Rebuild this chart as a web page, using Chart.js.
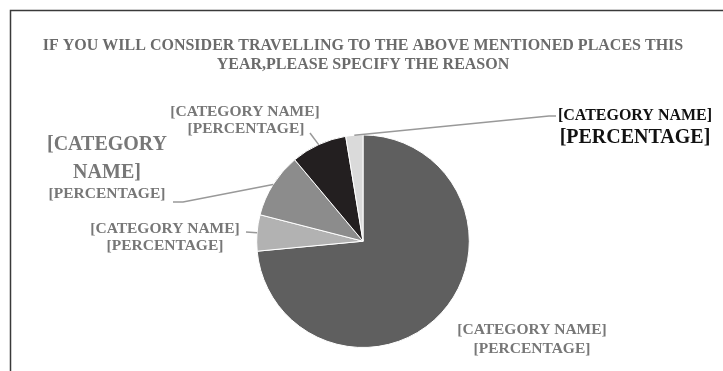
<!DOCTYPE html>
<html>
<head>
<meta charset="utf-8">
<script src="https://cdn.jsdelivr.net/npm/chart.js@4.4.1/dist/chart.umd.min.js"></script>
<style>
  html, body { margin: 0; padding: 0; background: #fff; }
  #wrap { position: relative; width: 723px; height: 371px; }
</style>
</head>
<body>
<div id="wrap"><canvas id="chart"></canvas></div>
<script>
const titleLines = [
    'IF YOU WILL CONSIDER TRAVELLING TO THE ABOVE MENTIONED PLACES THIS',
    'YEAR,PLEASE SPECIFY THE REASON'
];
const categories = ['[CATEGORY NAME]', '[CATEGORY NAME]', '[CATEGORY NAME]', '[CATEGORY NAME]', '[CATEGORY NAME]'];
const percentLabels = ['[PERCENTAGE]', '[PERCENTAGE]', '[PERCENTAGE]', '[PERCENTAGE]', '[PERCENTAGE]'];
const shares = [73.5, 5.5, 9.9, 8.5, 2.6];
const sliceColors = ['#5f5f5f', '#b2b2b2', '#8c8c8c', '#231f20', '#dadada'];

const serif = "'Liberation Serif', 'DejaVu Serif', serif";

// where each callout sits (label lines + leader path ending at the slice edge)
const labelLayout = [
    { color: '#777', lines: [[532, 334, 15.5, 'name'], [532, 353, 15.5, 'pct']] },
    { color: '#777', lines: [[165, 233, 15.5, 'name'], [165, 250, 15.5, 'pct']], leader: [[246, 232]] },
    { color: '#777', lines: [[107, 150, 20, 'name0'], [107, 178, 20, 'name1'], [107, 198, 15.5, 'pct']], leader: [[173, 202], [183, 202]] },
    { color: '#777', lines: [[245, 116, 15.5, 'name'], [246, 133, 15.5, 'pct']], leader: [[310, 133]] },
    { color: '#111', lines: [[635, 120, 16, 'name'], [635, 143, 20, 'pct']], leader: [[556, 116], [549, 116]] }
];

const calloutLabels = {
    id: 'calloutLabels',
    afterDatasetsDraw(chart) {
        const ctx = chart.ctx;
        const arcs = chart.getDatasetMeta(0).data;
        ctx.save();
        labelLayout.forEach((lay, i) => {
            const arc = arcs[i];
            const mid = (arc.startAngle + arc.endAngle) / 2;
            const ax = arc.x + Math.cos(mid) * arc.outerRadius;
            const ay = arc.y + Math.sin(mid) * arc.outerRadius;
            if (lay.leader) {
                ctx.beginPath();
                ctx.moveTo(lay.leader[0][0], lay.leader[0][1]);
                lay.leader.slice(1).forEach(p => ctx.lineTo(p[0], p[1]));
                ctx.lineTo(ax, ay);
                ctx.strokeStyle = '#999';
                ctx.lineWidth = 1.5;
                ctx.stroke();
            }
            const nameParts = categories[i].split(' ');
            ctx.fillStyle = lay.color;
            ctx.textAlign = 'center';
            ctx.textBaseline = 'alphabetic';
            lay.lines.forEach(([x, y, size, kind]) => {
                let txt = percentLabels[i];
                if (kind === 'name') txt = categories[i];
                if (kind === 'name0') txt = nameParts[0];
                if (kind === 'name1') txt = nameParts.slice(1).join(' ');
                ctx.font = 'bold ' + size + 'px ' + serif;
                ctx.fillText(txt, x, y);
            });
        });
        ctx.restore();
    }
};

const frame = {
    id: 'frame',
    afterDraw(chart) {
        const ctx = chart.ctx;
        ctx.save();
        ctx.strokeStyle = '#3a3a3a';
        ctx.lineWidth = 1.5;
        ctx.beginPath();
        ctx.moveTo(10.5, chart.height);
        ctx.lineTo(10.5, 10.5);
        ctx.lineTo(chart.width, 10.5);
        ctx.stroke();
        ctx.restore();
    }
};

new Chart(document.getElementById('chart'), {
    type: 'pie',
    data: {
        labels: categories,
        datasets: [{
            data: shares,
            backgroundColor: sliceColors,
            borderColor: '#fff',
            borderWidth: 1
        }]
    },
    options: {
        responsive: true,
        maintainAspectRatio: false,
        animation: false,
        layout: {
            padding: { top: 0, bottom: 23, left: 3, right: 0 }
        },
        plugins: {
            legend: { display: false },
            tooltip: { enabled: false },
            title: {
                display: true,
                text: titleLines,
                color: '#6b6b6b',
                font: { family: serif, size: 16, weight: 'bold', lineHeight: 1.2 },
                padding: { top: 36, bottom: 60 }
            }
        }
    },
    plugins: [calloutLabels, frame]
});
</script>
</body>
</html>
